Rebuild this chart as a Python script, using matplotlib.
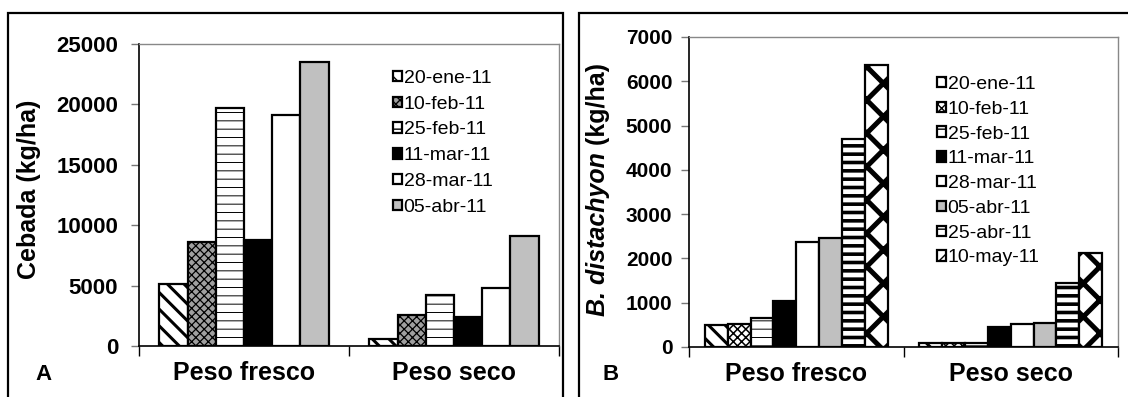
import matplotlib
matplotlib.use("Agg")
import matplotlib.pyplot as plt
from matplotlib.patches import Rectangle
import numpy as np

plt.rcParams['font.family'] = ['Liberation Sans', 'DejaVu Sans']

# Data
categories = ["Peso fresco", "Peso seco"]

dates_a = ["20-ene-11", "10-feb-11", "25-feb-11", "11-mar-11", "28-mar-11", "05-abr-11"]
cebada_fresco = [5100, 8600, 19700, 8800, 19100, 23500]
cebada_seco = [600, 2600, 4200, 2400, 4800, 9100]

dates_b = ["20-ene-11", "10-feb-11", "25-feb-11", "11-mar-11", "28-mar-11",
           "05-abr-11", "25-abr-11", "10-may-11"]
bdist_fresco = [500, 530, 660, 1030, 2380, 2470, 4690, 6360]
bdist_seco = [80, 100, 100, 450, 510, 550, 1450, 2130]

# bar styles: (facecolor, hatch, hatch linewidth)
styles_a = [
    ("white", "\\\\", 2.2),
    ("#a0a0a0", "xxxx", 0.9),
    ("white", "--", 0.7),
    ("black", "", 1.0),
    ("white", "", 1.0),
    ("#c0c0c0", "", 1.0),
]
styles_b = [
    ("white", "\\\\", 2.2),
    ("white", "xxxx", 1.1),
    ("white", "--", 0.7),
    ("black", "", 1.0),
    ("white", "", 1.0),
    ("#c0c0c0", "", 1.0),
    ("white", "--", 2.6),
    ("white", "x", 3.6),
]


def draw_panel(ax, series_labels, fresco, seco, styles, group_width, ymax, ystep,
               tick_size, tick_pad):
    n = len(series_labels)
    w = group_width / n
    x = np.arange(len(categories))
    for i, lab in enumerate(series_labels):
        fc, hatch, hlw = styles[i]
        with plt.rc_context({'hatch.linewidth': hlw}):
            ax.bar(x - group_width / 2 + w * (i + 0.5), [fresco[i], seco[i]], w,
                   color=fc, edgecolor='black', linewidth=1.6, hatch=hatch,
                   label=lab, zorder=3)
    ax.set_xlim(-0.5, 1.5)
    ax.set_ylim(0, ymax)
    ax.set_yticks(np.arange(0, ymax + 1, ystep))
    ax.set_xticks([-0.5, 0.5, 1.5])
    ax.set_xticklabels([])
    ax.set_xticks(x, minor=True)
    ax.set_xticklabels(categories, minor=True, fontsize=18, fontweight='bold')
    ax.tick_params(axis='x', which='major', length=7, width=1, direction='out')
    ax.tick_params(axis='x', which='minor', length=0, pad=11)
    ax.tick_params(axis='y', length=6, width=1, color='#777777', pad=tick_pad,
                   labelsize=tick_size)
    for lab in ax.get_yticklabels():
        lab.set_fontweight('bold')
    for side in ['top', 'right']:
        ax.spines[side].set_color('#888888')
        ax.spines[side].set_linewidth(1.0)
    for side in ['left', 'bottom']:
        ax.spines[side].set_color('black')
        ax.spines[side].set_linewidth(1.2)


fig = plt.figure(figsize=(11.28, 3.97), dpi=100)

# panel frames
fig.patches.append(Rectangle((8 / 1128, -0.05), (563 - 8) / 1128, (397 - 13) / 397 + 0.05,
                             transform=fig.transFigure, fill=False, edgecolor='black',
                             linewidth=1.6))
fig.patches.append(Rectangle((579 / 1128, -0.05), 0.5, (397 - 13) / 397 + 0.05,
                             transform=fig.transFigure, fill=False, edgecolor='black',
                             linewidth=1.6))

# Panel A
ax1 = fig.add_axes([139 / 1128, 1 - 346 / 397, (559 - 139) / 1128, (346 - 44) / 397])
draw_panel(ax1, dates_a, cebada_fresco, cebada_seco, styles_a, 0.805, 25000, 5000, 16, 9)
fig.text(29.5 / 1128, 1 - 189 / 397, "Cebada (kg/ha)", rotation=90, ha='center',
         va='center', fontsize=18, fontweight='bold')
fig.text(35 / 1128, 1 - 375 / 397, "A", ha='left', va='center', fontsize=16,
         fontweight='bold')
ax1.legend(loc='upper left', bbox_to_anchor=(393 / 1128, 1 - 70 / 397),
           bbox_transform=fig.transFigure, frameon=False, fontsize=14,
           handlelength=0.45, handleheight=0.45, handletextpad=0.1,
           labelspacing=0.45, borderpad=0, borderaxespad=0)

# Panel B
ax2 = fig.add_axes([689 / 1128, 1 - 347 / 397, (1118 - 689) / 1128, (347 - 37) / 397])
draw_panel(ax2, dates_b, bdist_fresco, bdist_seco, styles_b, 0.853, 7000, 1000, 15, 6)
t1 = ax2.text(598 / 1128, 1 - 316 / 397, "B. distachyon", transform=fig.transFigure,
              rotation=90, ha='center', va='bottom', fontsize=18, fontweight='bold',
              fontstyle='italic')
ax2.annotate(" (kg/ha)", xy=(0.5, 1.0), xycoords=t1, rotation=90, ha='center',
             va='bottom', fontsize=18, fontweight='bold', annotation_clip=False)
fig.text(603 / 1128, 1 - 375 / 397, "B", ha='left', va='center', fontsize=16,
         fontweight='bold')
ax2.legend(loc='upper left', bbox_to_anchor=(937 / 1128, 1 - 76 / 397),
           bbox_transform=fig.transFigure, frameon=False, fontsize=14,
           handlelength=0.45, handleheight=0.45, handletextpad=0.1,
           labelspacing=0.4, borderpad=0, borderaxespad=0)

plt.savefig("out.png", dpi=100)
